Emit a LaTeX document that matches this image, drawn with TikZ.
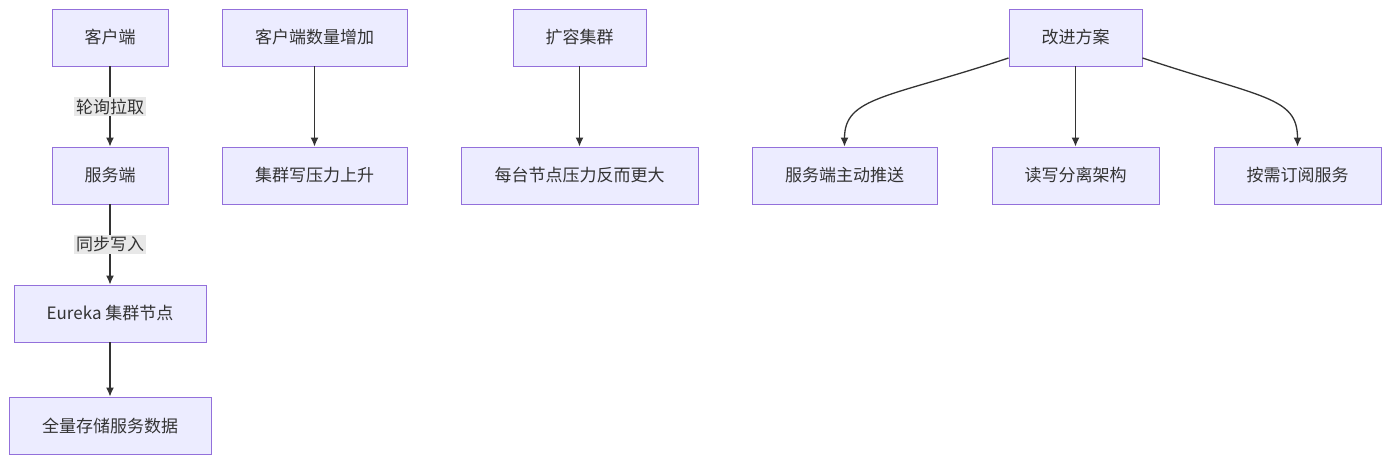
\documentclass[tikz,border=0pt]{standalone}
\usepackage{fontspec}
\setmainfont{Noto Sans CJK SC}
\usetikzlibrary{arrows.meta}
\definecolor{boxfill}{HTML}{ECECFF}
\definecolor{boxline}{HTML}{9370DB}
\definecolor{edgeline}{HTML}{333333}
\definecolor{lblfill}{HTML}{E8E8E8}

\begin{document}
\begin{tikzpicture}[x=1pt,y=-1pt,->,>={Latex[length=9pt,width=8pt]},line width=1.3pt,draw=edgeline,node distance=138pt,
  every node/.style={font=\fontsize{17}{20}\selectfont,text=edgeline},
  box/.style={draw=boxline,fill=boxfill,line width=0.9pt,minimum height=57pt,inner sep=0pt},
  lbl/.style={fill=lblfill,inner sep=2pt}]
  \useasboundingbox (0,0) rectangle (1400,467);
  % polling chain
  \node[box,minimum width=116pt] (client) at (110,37.5) {客户端};
  \node[box,minimum width=116pt] (server) [below of=client] {服务端};
  \node[box,minimum width=192pt] (eureka) [below of=server] {Eureka 集群节点};
  \node[box,minimum width=202pt] (store) [below of=eureka,node distance=112pt] {全量存储服务数据};
  % growth
  \node[box,minimum width=185pt] (grow) at (314.5,37.5) {客户端数量增加};
  \node[box,minimum width=185pt] (writeload) [below of=grow] {集群写压力上升};
  % scale out
  \node[box,minimum width=133pt] (scale) at (579.5,37.5) {扩容集群};
  \node[box,minimum width=237pt] (nodeload) [below of=scale] {每台节点压力反而更大};
  % improvements
  \node[box,minimum width=133pt] (plan) at (1075.5,37.5) {改进方案};
  \node[box,minimum width=185pt] (push) at (844.5,175.5) {服务端主动推送};
  \node[box,minimum width=167pt] (rwsplit) [below of=plan] {读写分离架构};
  \node[box,minimum width=167pt] (subscribe) at (1297.5,175.5) {按需订阅服务};
  \path (client) edge node[lbl] {轮询拉取} (server);
  \path (server) edge node[lbl] {同步写入} (eureka);
  \path (eureka) edge (store);
  \path (grow) edge (writeload);
  \path (scale) edge (nodeload);
  \path (plan) edge (rwsplit);
  \draw (plan.197) .. controls +(-120,40) and +(0,-50) .. (push.north);
  \draw (plan.-17) .. controls +(120,40) and +(0,-50) .. (subscribe.north);
\end{tikzpicture}
\end{document}
